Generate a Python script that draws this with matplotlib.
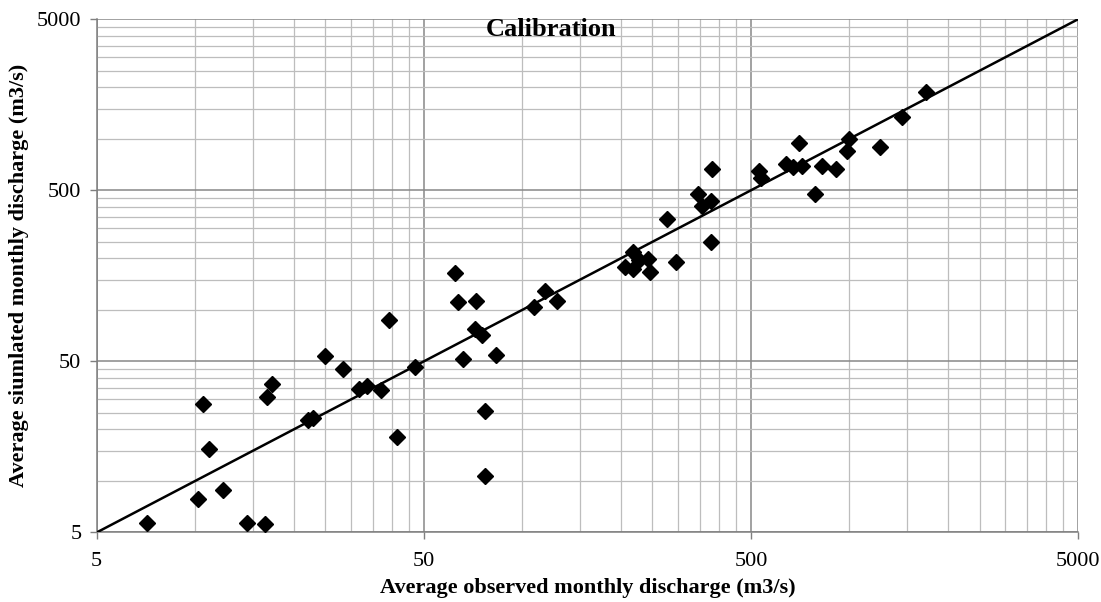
import numpy as np
import matplotlib.pyplot as plt
from matplotlib.ticker import FixedLocator, NullFormatter

plt.rcParams['font.family'] = ['Liberation Serif', 'DejaVu Serif']

observed = [7.14, 10.2, 12.2, 14.4, 16.4, 10.6, 11.0, 16.6, 17.2, 22.2,
            22.9, 25.0, 28.3, 31.7, 33.6, 36.9, 39.2, 41.4, 46.9, 62.3,
            63.4, 72.1, 66.0, 71.6, 75.4, 76.8, 76.8, 83.2, 108.4, 117.7,
            128.1, 205.7, 218, 218, 227.5, 242.3, 245.2, 295.9, 277.7, 378.4,
            344.4, 355.2, 376.6, 380, 529, 538, 641.5, 671.9, 716, 701,
            782.7, 824, 912, 982.5, 1001, 1245, 1451, 1718]
simulated = [5.7, 7.8, 8.8, 5.7, 5.6, 28.2, 15.4, 31.0, 36.9, 22.7,
             23.2, 53.8, 45.2, 34.5, 35.9, 34.0, 87.3, 18.0, 46.6, 163.7,
             110.8, 112.7, 51.9, 77.0, 71.3, 25.8, 10.7, 54.7, 103.5, 129.5,
             113.2, 177.4, 172.7, 218.8, 195.7, 197.6, 166.5, 189.8, 339.9, 250.4,
             475.5, 406.4, 433, 666, 648, 587.6, 712, 681, 693, 941,
             473.8, 696, 668, 851, 993, 899, 1336, 1870]

major = [5, 50, 500, 5000]
minor = [m * d for d in (1, 10, 100) for m in range(10, 50, 5)]

fig = plt.figure(figsize=(11.01, 6.02), dpi=100)
ax = fig.add_axes([0.0878, 0.1155, 0.8913, 0.8525])

ax.set_xscale('log')
ax.set_yscale('log')
ax.set_xlim(5, 5000)
ax.set_ylim(5, 5000)

ax.xaxis.set_major_locator(FixedLocator(major))
ax.yaxis.set_major_locator(FixedLocator(major))
ax.xaxis.set_minor_locator(FixedLocator(minor))
ax.yaxis.set_minor_locator(FixedLocator(minor))
ax.set_xticklabels([str(v) for v in major])
ax.set_yticklabels([str(v) for v in major])
ax.xaxis.set_minor_formatter(NullFormatter())
ax.yaxis.set_minor_formatter(NullFormatter())

ax.grid(which='major', color='#888888', linewidth=1.1)
ax.grid(which='minor', color='#bdbdbd', linewidth=0.9)
ax.set_axisbelow(True)

ax.tick_params(which='major', direction='out', length=5, width=1, color='#7f7f7f',
               labelsize=16, pad=9)
ax.tick_params(axis='y', which='major', pad=6)
ax.tick_params(which='minor', length=0)

for s in ('top', 'right'):
    ax.spines[s].set_visible(False)
for s in ('left', 'bottom'):
    ax.spines[s].set_color('#7f7f7f')
    ax.spines[s].set_linewidth(1.1)

ax.plot([5, 5000], [5, 5000], color='black', linewidth=1.8, zorder=3)
ax.plot(observed, simulated, linestyle='none', marker='D', markersize=8.5,
        color='black', zorder=4)

ax.text(0.463, 0.981, 'Calibration', transform=ax.transAxes, ha='center',
        va='center', fontsize=19, fontweight='bold')
ax.set_xlabel('Average observed monthly discharge (m3/s)', fontsize=16,
              fontweight='bold', labelpad=5)
ax.set_ylabel('Average siumlated monthly discharge (m3/s)', fontsize=16,
              fontweight='bold', labelpad=6)

fig.savefig('out.png', dpi=100)
